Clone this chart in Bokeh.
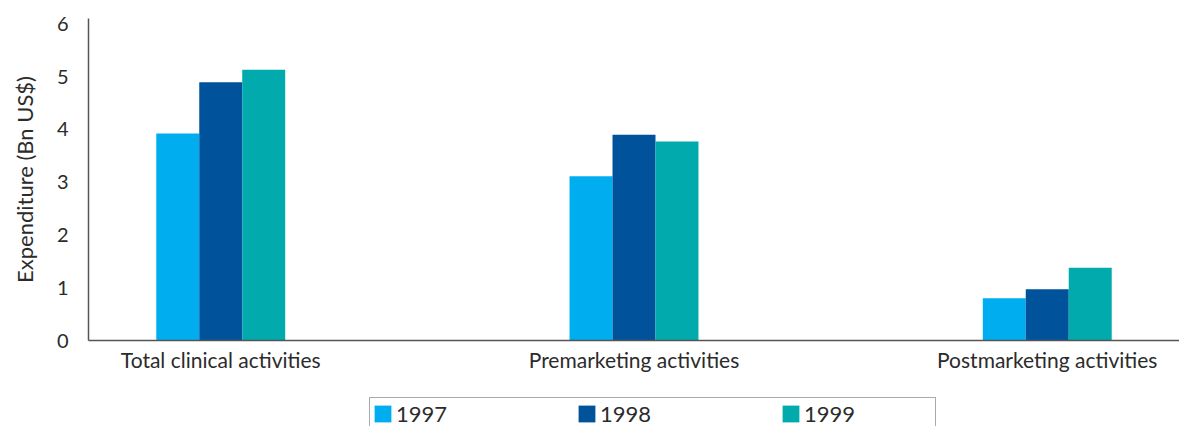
from bokeh.plotting import figure
from bokeh.layouts import column
from bokeh.models import (ColumnDataSource, FactorRange, Range1d, FixedTicker,
                          Legend, LegendItem)
from bokeh.transform import dodge
from bokeh.embed import file_html
from bokeh.resources import INLINE

# Clinical expenditure by activity type, billions of US dollars
categories = ["Total clinical activities", "Premarketing activities", "Postmarketing activities"]
years = ["1997", "1998", "1999"]
exp_1997 = [3.92, 3.11, 0.80]
exp_1998 = [4.89, 3.90, 0.97]
exp_1999 = [5.13, 3.77, 1.38]
y_ticks = [0, 1, 2, 3, 4, 5, 6]

colors = ["#00AEEF", "#00529B", "#00AAAD"]
FONT = "Lato"
TEXT = "#2b2b2b"
AXIS = "#555555"

source = ColumnDataSource(dict(category=categories, y1997=exp_1997,
                               y1998=exp_1998, y1999=exp_1999))

p = figure(x_range=FactorRange(factors=categories, range_padding=-0.18,
                               range_padding_units="absolute"),
           y_range=Range1d(0, 6.1),
           width=1179, height=374, output_backend="svg", toolbar_location=None,
           min_border_left=88, min_border_right=0, min_border_top=18,
           min_border_bottom=34)

bar_w = 0.104
for i, (yr, col) in enumerate(zip(years, colors)):
    p.vbar(x=dodge("category", (i - 1) * bar_w, range=p.x_range),
           top="y" + yr, width=bar_w, source=source,
           fill_color=col, line_color=None)

p.outline_line_color = None
p.xgrid.grid_line_color = None
p.ygrid.grid_line_color = None

# y axis
p.yaxis.ticker = FixedTicker(ticks=y_ticks)
p.yaxis.axis_label = "Expenditure (Bn US$)"
p.yaxis.axis_label_text_font = FONT
p.yaxis.axis_label_text_font_style = "normal"
p.yaxis.axis_label_text_font_size = "22px"
p.yaxis.axis_label_text_color = TEXT
p.yaxis.axis_label_standoff = 16
p.yaxis.major_label_text_font = FONT
p.yaxis.major_label_text_font_size = "20px"
p.yaxis.major_label_text_color = TEXT
p.yaxis.major_label_standoff = 14
p.yaxis.major_tick_line_color = None
p.yaxis.minor_tick_line_color = None
p.yaxis.axis_line_color = AXIS
p.yaxis.axis_line_width = 1.5

# x axis
p.xaxis.major_label_text_font = FONT
p.xaxis.major_label_text_font_size = "21px"
p.xaxis.major_label_text_color = TEXT
p.xaxis.major_label_standoff = 0
p.xaxis.major_tick_line_color = None
p.xaxis.minor_tick_line_color = None
p.xaxis.axis_line_color = AXIS
p.xaxis.axis_line_width = 1.5

# legend strip underneath the chart; its key renderers stay hidden
leg = figure(width=1179, height=52, output_backend="svg", toolbar_location=None,
             x_axis_location=None, y_axis_location=None,
             x_range=p.x_range, y_range=p.y_range,
             min_border=0, outline_line_color=None)
leg.grid.visible = False
keys = [leg.vbar(x="category", top="y" + yr, width=bar_w, source=source,
                 fill_color=col, line_color=None, visible=False)
        for yr, col in zip(years, colors)]

legend = Legend(items=[LegendItem(label=yr, renderers=[k]) for yr, k in zip(years, keys)],
                orientation="horizontal", location=(281, -4),
                glyph_width=21, glyph_height=21, label_standoff=3,
                label_width=129, spacing=51, padding=2, margin=0,
                label_text_font=FONT, label_text_font_size="22px",
                label_text_color=TEXT,
                border_line_color=AXIS, border_line_width=1.5,
                background_fill_alpha=0,
                inactive_fill_alpha=0)
leg.add_layout(legend, "center")

page = column(p, leg, spacing=0)
open("out.html", "w").write(file_html(page, INLINE))
